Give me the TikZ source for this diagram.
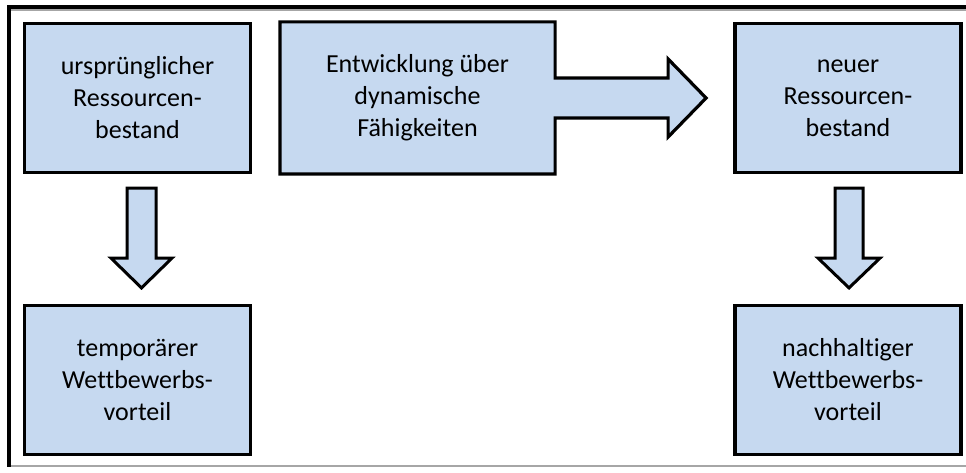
\documentclass[tikz,border=0pt]{standalone}
\usepackage{fontspec}
\setmainfont{Carlito}[Ligatures=NoCommon]
\usetikzlibrary{calc,backgrounds}
\definecolor{boxfill}{HTML}{C6D9F0}
\definecolor{framegray}{HTML}{A6A6A6}
\tikzset{
  box/.style={draw=black, line width=3.2pt, fill=boxfill, minimum width=226pt, minimum height=149pt,
    inner sep=0pt, align=center, font=\fontsize{26}{32}\selectfont},
  outline/.style={draw=black, line width=3.2pt, fill=boxfill, line join=miter},
  blockarrow/.style={draw=black, line width=3pt, fill=boxfill, line join=miter},
  framebold/.style={draw=black, line width=3.2pt},
  framethin/.style={draw=framegray, line width=1.2pt}
}
\begin{document}
\begin{tikzpicture}[x=1pt,y=-1pt]
\useasboundingbox (0,0) rectangle (966,473);
% frame
\draw[framethin] (9,10) -- (966,10);
\draw[framethin] (9,466) -- (966,466);
\draw[framebold] (966,7) -- (9,7) -- (9,467);
% boxes
\node[box] (orig) at (137.5,98) {ursprünglicher\\Ressourcen-\\bestand};
\node[box, draw=none, fill=none, minimum width=272pt] (dev) at (417.5,98) {Entwicklung über\\dynamische\\Fähigkeiten};
\node[box] (neu) at (848,98) {neuer\\Ressourcen-\\bestand};
\node[box] (temp) at (137.5,380) {temporärer\\Wettbewerbs-\\vorteil};
\node[box] (nach) at (848,380) {nachhaltiger\\Wettbewerbs-\\vorteil};
% development box with attached block arrow
\begin{scope}[on background layer]
\path[outline] (dev.north west) -- (dev.north east) -- ($(dev.east)+(0,-20)$) -- ++(113,0) -- ++(0,-19)
  -- ($(dev.east)+(151,0)$) -- ($(dev.east)+(113,39)$) -- ++(0,-19) -- ($(dev.east)+(0,20)$)
  -- (dev.south east) -- (dev.south west) -- cycle;
\end{scope}
% down arrows
\draw[blockarrow] ($(orig.south)+(-10.5,14)$) -- ++(29,0) -- ++(0,70) -- ++(16,0)
  -- ($(temp.north)+(4,-16)$) -- ($(orig.south)+(-26.5,84)$) -- ++(16,0) -- cycle;
\draw[blockarrow] ($(neu.south)+(-13,14)$) -- ++(28,0) -- ++(0,70) -- ++(17,0)
  -- ($(nach.north)+(1,-16)$) -- ($(neu.south)+(-30,84)$) -- ++(17,0) -- cycle;
\end{tikzpicture}
\end{document}
